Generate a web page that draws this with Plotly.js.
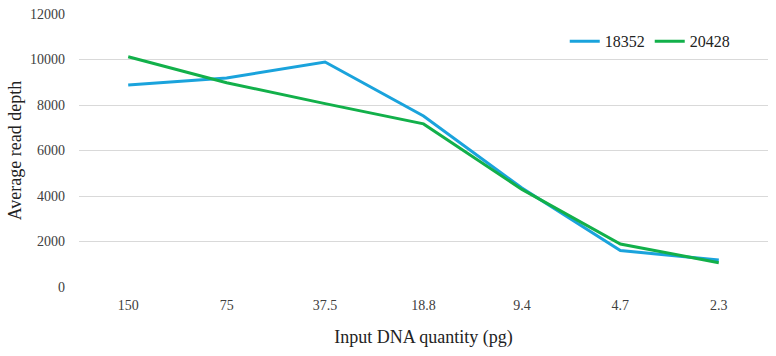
<!DOCTYPE html>
<html><head><meta charset="utf-8">
<script src="https://cdn.plot.ly/plotly-3.0.1.min.js"></script>
<style>body{margin:0;background:#fff}#chart{width:776px;height:356px}</style>
</head><body><div id="chart"></div>
<script>
var categories = ["150","75","37.5","18.8","9.4","4.7","2.3"];
var series18352 = [8880,9190,9890,7520,4350,1600,1190];
var series20428 = [10120,8980,8060,7170,4290,1890,1070];
var yTicks = [0,2000,4000,6000,8000,10000,12000];
var yTickText = ["0","2000","4000","6000","8000","10000","12000"];

var fam = "Liberation Serif";
var traces = [
  {x:categories, y:series18352, name:"18352", type:"scatter", mode:"lines", line:{color:"#1aa3dc", width:3}},
  {x:categories, y:series20428, name:"20428", type:"scatter", mode:"lines", line:{color:"#12b04a", width:3}}
];
var layout = {
  width:776, height:356,
  margin:{l:79, r:8, t:14, b:69},
  paper_bgcolor:"#fff", plot_bgcolor:"#fff",
  font:{family:fam, size:14, color:"#404040"},
  showlegend:true,
  legend:{orientation:"h", x:0.705, y:0.9, xanchor:"left", yanchor:"middle", font:{family:fam, size:16, color:"#222"}, itemwidth:30, tracegroupgap:0},
  xaxis:{type:"category", range:[-0.5,6.5], showgrid:false, zeroline:false, showline:false, ticks:"", ticklabelstandoff:8,
    tickfont:{family:fam, size:14, color:"#404040"},
    title:{text:"Input DNA quantity (pg)", font:{family:fam, size:18, color:"#222"}, standoff:18}},
  yaxis:{range:[0,12000], tickvals:yTicks, ticktext:yTickText, showgrid:true, gridcolor:"#d9d9d9", gridwidth:1, zeroline:false, showline:false, ticks:"", ticklabelstandoff:13,
    tickfont:{family:fam, size:14, color:"#404040"},
    title:{text:"Average read depth", font:{family:fam, size:18, color:"#222"}, standoff:3}}
};
Plotly.newPlot("chart", traces, layout, {displayModeBar:false});
</script></body></html>
